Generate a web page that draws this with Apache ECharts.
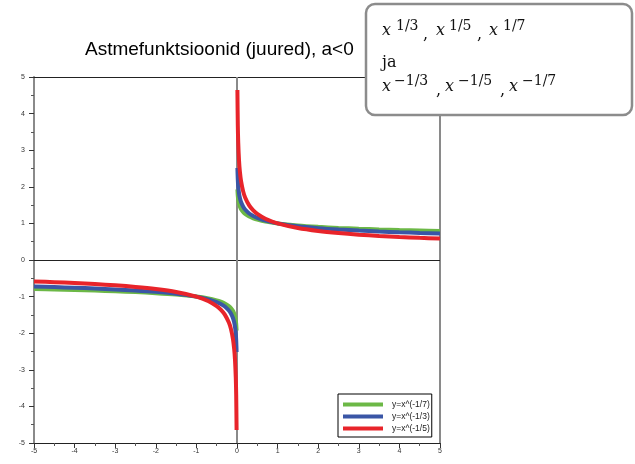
<!DOCTYPE html>
<html>
<head>
<meta charset="utf-8">
<script src="https://cdn.jsdelivr.net/npm/echarts@6/dist/echarts.min.js"></script>
<style>
    html, body { margin: 0; padding: 0; background: #fff; }
    #chart { width: 635px; height: 464px; }
</style>
</head>
<body>
<div id="chart"></div>
<script>
// x samples, right branch (x > 0)
var xRight = [0.01, 0.02, 0.03, 0.05, 0.07, 0.1, 0.15, 0.2, 0.3, 0.4, 0.5, 0.7, 1, 1.5, 2, 2.5, 3, 3.5, 4, 4.5, 5];
var greenRight = [1.931, 1.749, 1.650, 1.534, 1.462, 1.389, 1.311, 1.259, 1.188, 1.140, 1.104, 1.052, 1, 0.944, 0.906, 0.877, 0.855, 0.836, 0.820, 0.807, 0.795];
var blueRight = [2.512, 2.187, 2.016, 1.821, 1.702, 1.585, 1.461, 1.380, 1.272, 1.201, 1.149, 1.074, 1, 0.922, 0.871, 0.833, 0.803, 0.778, 0.758, 0.740, 0.725];
var redRight = [4.642, 3.684, 3.218, 2.714, 2.426, 2.154, 1.882, 1.710, 1.494, 1.357, 1.260, 1.126, 1, 0.874, 0.794, 0.737, 0.693, 0.659, 0.630, 0.606, 0.585];

// left branch (x < 0)
var xLeft = [-5, -4.5, -4, -3.5, -3, -2.5, -2, -1.5, -1, -0.7, -0.5, -0.4, -0.3, -0.2, -0.15, -0.1, -0.07, -0.05, -0.03, -0.02, -0.01];
var greenLeft = [-0.795, -0.807, -0.820, -0.836, -0.855, -0.877, -0.906, -0.944, -1, -1.052, -1.104, -1.140, -1.188, -1.259, -1.311, -1.389, -1.462, -1.534, -1.650, -1.749, -1.931];
var blueLeft = [-0.725, -0.740, -0.758, -0.778, -0.803, -0.833, -0.871, -0.922, -1, -1.074, -1.149, -1.201, -1.272, -1.380, -1.461, -1.585, -1.702, -1.821, -2.016, -2.187, -2.512];
var redLeft = [-0.585, -0.606, -0.630, -0.659, -0.693, -0.737, -0.794, -0.874, -1, -1.126, -1.260, -1.357, -1.494, -1.710, -1.882, -2.154, -2.426, -2.714, -3.218, -3.684, -4.642];

var legendNames = ['y=x^(-1/7)', 'y=x^(-1/3)', 'y=x^(-1/5)'];
var colors = ['#6cb846', '#3a56a6', '#e8242a'];

function pairs(xs, ys) {
    return xs.map(function (x, i) { return [x, ys[i]]; });
}

function curve(name, color, data) {
    return {
        type: 'line',
        name: name,
        z: 3,
        data: data,
        smooth: 0.3,
        showSymbol: false,
        symbol: 'none',
        color: color,
        lineStyle: { color: color, width: 4 },
        animation: false
    };
}

// pieces of the formula box: [text, x, kind]
var boxLine1 = [['x', 382, 'x'], ['1/3', 396, 'sup'], [',', 423, 'c'], ['x', 436, 'x'], ['1/5', 449, 'sup'], [',', 477, 'c'], ['x', 489, 'x'], ['1/7', 503, 'sup']];
var boxLine3 = [['x', 382, 'x'], ['\u22121/3', 394, 'sup'], [',', 436, 'c'], ['x', 445, 'x'], ['\u22121/5', 458, 'sup'], [',', 500, 'c'], ['x', 509, 'x'], ['\u22121/7', 522, 'sup']];

function boxTexts(pieces, baseline, supBaseline) {
    return pieces.map(function (p) {
        var kind = p[2];
        var size = kind === 'sup' ? 14 : 16;
        var font = (kind === 'x' ? 'italic ' : '') + size + 'px "DejaVu Serif"';
        var y = (kind === 'sup' ? supBaseline : baseline) - 0.3 * size;
        if (kind === 'c') {
            y += 4;
        }
        return {
            type: 'text',
            z: 101,
            style: { text: p[0], x: p[1], y: y, font: font, fill: '#111', textAlign: 'left', textVerticalAlign: 'middle' }
        };
    });
}

var chart = echarts.init(document.getElementById('chart'), null, { renderer: 'canvas' });

var option = {
    animation: false,
    backgroundColor: '#fff',
    title: {
        text: 'Astmefunktsioonid (juured), a<0',
        left: 85,
        top: 40,
        padding: 0,
        textStyle: { fontFamily: 'Liberation Sans', fontSize: 19, fontWeight: 'normal', color: '#000' }
    },
    grid: { left: 34, right: 195, top: 77, bottom: 21 },
    legend: {
        data: legendNames,
        orient: 'vertical',
        left: 338,
        top: 394,
        padding: [6, 2, 4, 5],
        itemWidth: 40,
        itemHeight: 4,
        itemGap: 3,
        icon: 'rect',
        borderColor: '#000',
        borderWidth: 1,
        backgroundColor: '#fff',
        textStyle: { fontFamily: 'Liberation Sans', fontSize: 8.5, color: '#222', padding: [0, 0, 0, 4] }
    },
    xAxis: [{
        type: 'value', min: -5, max: 5, interval: 1, position: 'bottom',
        axisLine: { onZero: false, lineStyle: { color: '#222', width: 1 } },
        axisTick: { length: 5, lineStyle: { color: '#333' } },
        minorTick: { show: true, splitNumber: 2, length: 3, lineStyle: { color: '#555' } },
        axisLabel: { fontFamily: 'Liberation Sans', fontSize: 7, color: '#333', margin: 5 },
        splitLine: { show: false }
    }, {
        type: 'value', min: -5, max: 5, interval: 1, position: 'top',
        axisLine: { onZero: false, lineStyle: { color: '#222', width: 1 } },
        axisTick: { show: false }, axisLabel: { show: false }, splitLine: { show: false }
    }],
    yAxis: [{
        type: 'value', min: -5, max: 5, interval: 1, position: 'left',
        axisLine: { show: true, onZero: false, lineStyle: { color: '#8a8a8a', width: 2 } },
        axisTick: { show: true, length: 5, lineStyle: { color: '#333' } },
        minorTick: { show: true, splitNumber: 2, length: 3, lineStyle: { color: '#555' } },
        axisLabel: { fontFamily: 'Liberation Sans', fontSize: 7, color: '#333', margin: 9 },
        splitLine: { show: false }
    }, {
        type: 'value', min: -5, max: 5, interval: 1, position: 'right',
        axisLine: { show: true, onZero: false, lineStyle: { color: '#8a8a8a', width: 2 } },
        axisTick: { show: false }, axisLabel: { show: false }, splitLine: { show: false }
    }],
    series: [
        {
            type: 'line', data: [], silent: true, z: 1,
            markLine: {
                z: 1,
                symbol: 'none', silent: true, label: { show: false },
                data: [
                    { yAxis: 0, lineStyle: { color: '#222', width: 1, type: 'solid' } },
                    { xAxis: 0, lineStyle: { color: '#8a8a8a', width: 2, type: 'solid' } }
                ]
            }
        },
        curve(legendNames[0], colors[0], pairs(xLeft, greenLeft)),
        curve(legendNames[0], colors[0], pairs(xRight, greenRight)),
        curve(legendNames[1], colors[1], pairs(xLeft, blueLeft)),
        curve(legendNames[1], colors[1], pairs(xRight, blueRight)),
        curve(legendNames[2], colors[2], pairs(xLeft, redLeft)),
        curve(legendNames[2], colors[2], pairs(xRight, redRight))
    ],
    graphic: [{
        type: 'group',
        z: 100,
        children: [{
            type: 'rect',
            z: 100,
            shape: { x: 366, y: 4, width: 266, height: 111, r: 9 },
            style: { fill: '#fff', stroke: '#8c8c8c', lineWidth: 2.5 }
        }, {
            type: 'text',
            z: 101,
            style: { text: 'ja', x: 382, y: 68 - 0.3 * 16, font: '16px "DejaVu Serif"', fill: '#111', textAlign: 'left', textVerticalAlign: 'middle' }
        }].concat(boxTexts(boxLine1, 36, 31)).concat(boxTexts(boxLine3, 92, 86))
    }]
};

chart.setOption(option);
</script>
</body>
</html>
